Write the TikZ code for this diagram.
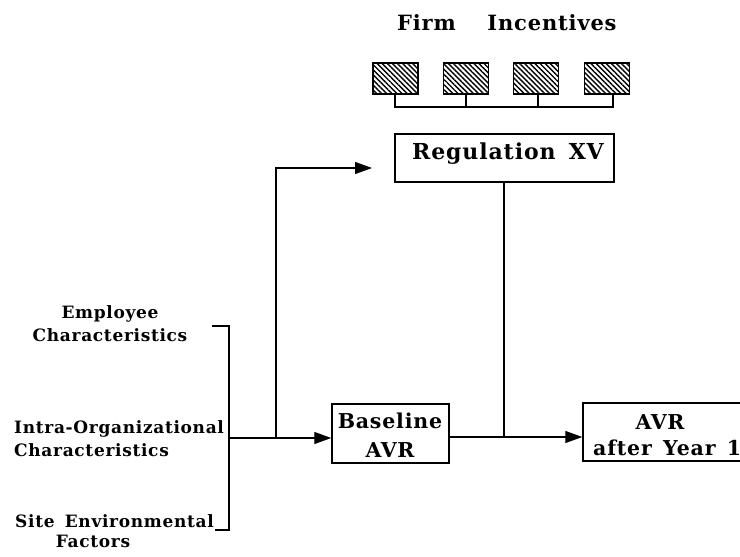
\documentclass[tikz,border=0pt]{standalone}
\usepackage{fontspec}
\setmainfont{DejaVu Serif}[LetterSpace=4]
\usetikzlibrary{arrows.meta,patterns.meta}
\begin{document}
\begin{tikzpicture}[x=1pt,y=-1pt,
  box/.style={draw,line width=1.5pt,inner sep=0pt},
  hatch/.style={box,minimum width=45pt,minimum height=31pt,
    pattern={Lines[angle=-45,distance=3.6pt,line width=1.4pt]}},
  conn/.style={line width=1.3pt},
  arr/.style={conn,-{Triangle[length=17pt,width=12pt]}},
  big/.style={inner sep=0pt,font=\fontsize{21}{24}\selectfont\bfseries},
  reg/.style={inner sep=0pt,font=\fontsize{22}{25}\selectfont\bfseries},
  mid/.style={inner sep=0pt,font=\fontsize{20.5}{23}\selectfont\bfseries},
  sml/.style={inner sep=0pt,font=\fontsize{17}{20}\selectfont\bfseries}]
\useasboundingbox (0,0) rectangle (740,557);
% title
\node[big,anchor=base] (firm) at (426.5,30) {Firm};
\node[big,anchor=base] (inc) at (552,30) {Incentives};
% hatched boxes
\node[hatch] (h1) at (395.5,78.5) {};
\node[hatch] (h2) at (466,78.5) {};
\node[hatch] (h3) at (536,78.5) {};
\node[hatch] (h4) at (607,78.5) {};
\coordinate (bus1) at (395,107);
\coordinate (bus4) at (613,107);
\draw[conn] (h1.south -| bus1) -- (bus1) -- (bus4) -- (h4.south -| bus4);
\draw[conn] (h2.south) -- (h2.south |- bus1);
\draw[conn] ([xshift=2pt]h3.south) -- ([xshift=2pt]h3.south |- bus1);
% regulation
\node[box,minimum width=219pt,minimum height=48pt] (reg) at (504.5,158) {};
\node[reg,anchor=base] (regt) at (508,159.5) {Regulation\hspace{0.6em}XV};
% baseline
\node[box,minimum width=117pt,minimum height=59pt] (base) at (390.5,433.5) {};
\node[mid,anchor=base] (bt1) at (390,428) {Baseline};
\node[mid,anchor=base] (bt2) at (390,457) {AVR};
% after year 1
\node[box,minimum width=180pt,minimum height=58pt] (avr) at (673,432) {};
\node[mid,anchor=base] (at1) at (660,429) {AVR};
\node[mid,anchor=base west] (at2) at (593,455) {after\hspace{0.55em}Year\hspace{0.55em}1};
% left labels
\node[sml,anchor=base] (e1) at (110,318) {Employee};
\node[sml,anchor=base] (e2) at (110,341) {Characteristics};
\node[sml,anchor=base west] (i1) at (14,433) {Intra-Organizational};
\node[sml,anchor=base west] (i2) at (14,456) {Characteristics};
\node[sml,anchor=base west] (s1) at (15,527) {Site\hspace{0.6em}Environmental};
\node[sml,anchor=base] (s2) at (93,547) {Factors};
% bracket
\coordinate (bk1) at (212,326);
\coordinate (bk2) at (229,326);
\coordinate (bk3) at (229,530);
\coordinate (bk4) at (215,530);
\draw[conn] (bk1) -- (bk2) -- (bk3) -- (bk4);
% main flow
\coordinate (j0) at (229,438);
\coordinate (jb) at (276,438);
\coordinate (jt) at (276,168);
\coordinate (rin) at (372,168);
\draw[arr] (j0) -- (j0 -| base.west);
\draw[arr] (jb) -- (jt) -- (rin);
\coordinate (ja) at (504,437);
\draw[arr] (ja -| base.east) -- (ja -| avr.west);
\draw[conn] (reg.south -| ja) -- (ja);
\end{tikzpicture}
\end{document}
